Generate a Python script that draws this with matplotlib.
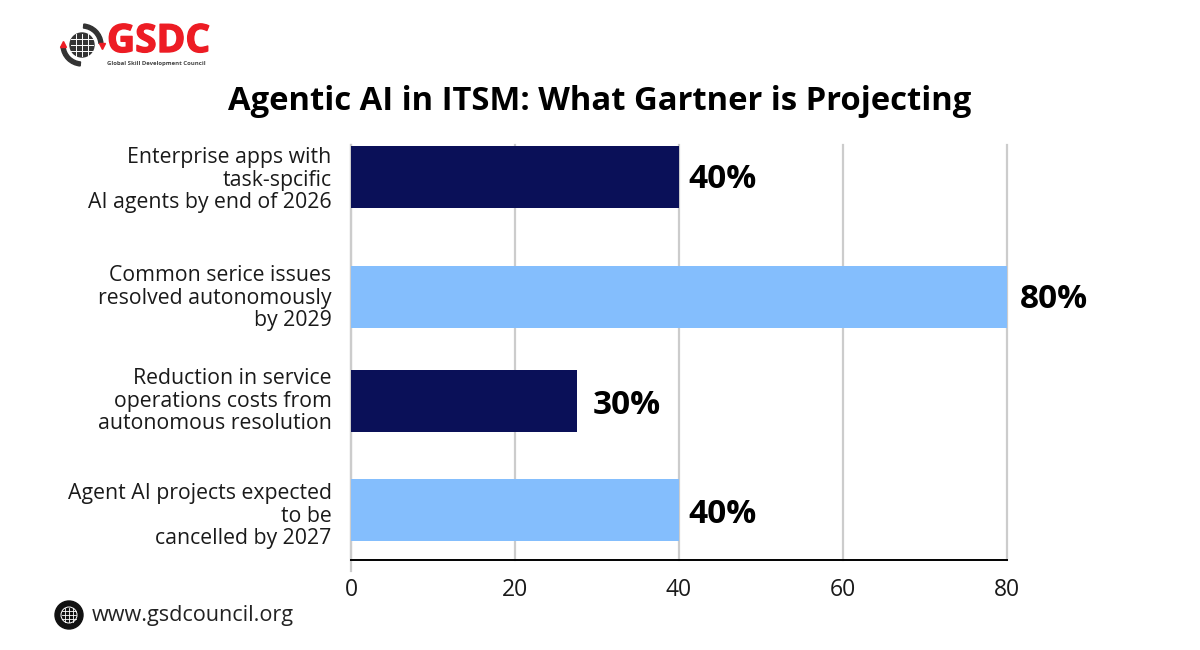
import matplotlib
matplotlib.use("Agg")
import matplotlib.pyplot as plt
import matplotlib.patheffects as pe
from matplotlib.patches import Circle, Wedge

plt.rcParams["font.family"] = ["Open Sans", "DejaVu Sans"]

# chart data
categories = [
    "Enterprise apps with\ntask-spcific\nAI agents by end of 2026",
    "Common serice issues\nresolved autonomously\nby 2029",
    "Reduction in service\noperations costs from\nautonomous resolution",
    "Agent AI projects expected\nto be\ncancelled by 2027",
]
values = [40, 80, 27.6, 40]
value_labels = ["40%", "80%", "30%", "40%"]
x_ticks = [0, 20, 40, 60, 80]

# bars and labels are unevenly spaced in the original, so y is in image pixels
bar_centers = [177, 297, 401, 510]
label_centers = [177, 295, 398, 513]
value_label_y = [177, 297, 403, 512]
bar_colors = ["#0A1058", "#84BEFD", "#0A1058", "#84BEFD"]

W, H = 1200, 650
fig = plt.figure(figsize=(12, 6.5), dpi=100, facecolor="white")

ax = fig.add_axes([351 / W, 1 - 560 / H, 656 / W, 415 / H])
ax.set_xlim(0, 80)
ax.set_ylim(560, 145)
ax.barh(bar_centers, values, height=62.5, color=bar_colors, zorder=3)
ax.set_xticks(x_ticks)
ax.set_yticks(label_centers)
ax.set_yticklabels(categories, fontsize=15.3, color="#1a1a1a", linespacing=1.1)
ax.tick_params(axis="y", length=0, pad=14)
ax.tick_params(axis="x", length=0, pad=13, labelsize=16.5, labelcolor="#1a1a1a")
ax.grid(axis="x", color="#cccccc", lw=1.6, zorder=0, clip_on=False)
ax.set_axisbelow(True)
for s in ["top", "right", "left"]:
    ax.spines[s].set_visible(False)
ax.spines["bottom"].set_color("black")
ax.spines["bottom"].set_linewidth(1.4)
ax.spines["bottom"].set_zorder(4)
ax.plot([0, 0], [145, 571], color="#cccccc", lw=1.6, clip_on=False, zorder=2)

label_gaps = [9, 12.5, 15, 9]
for y, v, lab, gap in zip(value_label_y, values, value_labels, label_gaps):
    ax.annotate(lab, (v, y), xytext=(gap * 0.72, -1.5), textcoords="offset points",
                va="center", ha="left", fontsize=24, fontweight="bold", color="black")

# overlay in pixel coordinates for title, logo and footer
ov = fig.add_axes([0, 0, 1, 1], facecolor="none")
ov.set_xlim(0, W)
ov.set_ylim(H, 0)
ov.axis("off")

ov.text(600, 102, "Agentic AI in ITSM: What Gartner is Projecting", ha="center", va="center",
        fontsize=23.6, fontweight="bold", color="black")

# logo
ov.add_patch(Circle((82, 45), 12, color="#333333"))
for x in [76, 82, 88]:
    ov.plot([x, x], [34, 56], color="white", lw=0.7)
for y in [39, 45, 51]:
    ov.plot([71, 93], [y, y], color="white", lw=0.7)
ov.add_patch(Wedge((82, 45), 21, 275, 355, width=4, color="#333333"))
ov.add_patch(Wedge((82, 45), 21, 95, 175, width=4, color="#333333"))
ov.plot([63], [44], marker="^", ms=4, color="#ed1c24")
ov.plot([102], [46], marker="v", ms=4, color="#ed1c24")
ov.text(107, 41.5, "GSDC", ha="left", va="center", fontsize=28, fontweight="bold", color="#ed1c24",
        path_effects=[pe.withStroke(linewidth=1.0, foreground="#ed1c24")])
ov.text(107, 64, "Global Skill Development Council", ha="left", va="center", fontsize=4.3,
        fontweight="bold", color="#444444")

# footer
ov.add_patch(Circle((69, 615), 14, color="#111111"))
ov.add_patch(Circle((69, 615), 8, fill=False, ec="white", lw=0.7))
for x in [65, 69, 73]:
    ov.plot([x, x], [608, 622], color="white", lw=0.6)
for y in [611, 615, 619]:
    ov.plot([62, 76], [y, y], color="white", lw=0.6)
ov.text(92, 615, "www.gsdcouncil.org", ha="left", va="center", fontsize=15.6, color="#222222")

fig.savefig("out.png", dpi=100)
